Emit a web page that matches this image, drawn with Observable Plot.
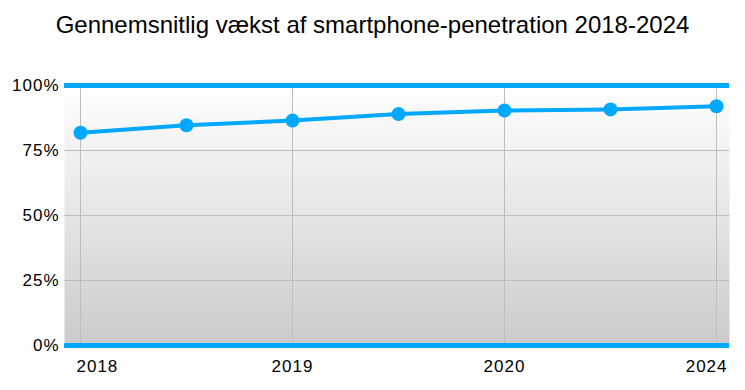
<!DOCTYPE html>
<html>
<head>
<meta charset="utf-8">
<script src="https://cdn.jsdelivr.net/npm/d3@7"></script>
<script src="https://cdn.jsdelivr.net/npm/@observablehq/plot@0.6"></script>
<style>
  html, body { margin: 0; padding: 0; background: #fff; }
  body { width: 745px; height: 390px; overflow: hidden; font-family: "Liberation Sans", Helvetica, Arial, sans-serif; }
  #title { height: 60px; line-height: 50px; text-align: center; font-size: 24px; color: #000; }
  #chart text { letter-spacing: 1px; }
</style>
</head>
<body>
<div id="title">Gennemsnitlig vækst af smartphone-penetration 2018-2024</div>
<div id="chart"></div>
<script>
const categories = ["2018", "2018 H2", "2019", "2019 H2", "2020", "2020 H2", "2024"];
const values = [81.8, 84.7, 86.5, 89.0, 90.4, 90.8, 92.0];
const labeledCategories = ["2018", "2019", "2020", "2024"];
const yTicks = [0, 25, 50, 75, 100];

const data = categories.map((c, i) => ({category: c, value: values[i]}));
const blue = "#00a8ff";

const defs = () => {
  const d = d3.create("svg:defs");
  const g = d.append("linearGradient").attr("id", "bg").attr("x1", 0).attr("y1", 0).attr("x2", 0).attr("y2", 1);
  g.append("stop").attr("offset", "0%").attr("stop-color", "#ffffff");
  g.append("stop").attr("offset", "100%").attr("stop-color", "#cbcbcb");
  return d.node();
};

const chart = Plot.plot({
  width: 745,
  height: 330,
  marginTop: 25,
  marginBottom: 45,
  marginLeft: 64,
  marginRight: 16,
  style: {fontFamily: "'Liberation Sans', Helvetica, Arial, sans-serif", fontSize: "17px", color: "#000", background: "#fff"},
  x: {type: "point", domain: categories, padding: 0, insetLeft: 13, insetRight: 11, axis: null},
  y: {domain: [0, 100], axis: null},
  marks: [
    defs,
    Plot.frame({fill: "url(#bg)", stroke: null}),
    Plot.ruleY([25, 50, 75], {stroke: "#bdbdbd", strokeWidth: 1}),
    Plot.ruleX(labeledCategories, {x: d => d, y1: 0, y2: 100, stroke: "#bdbdbd", strokeWidth: 1}),
    Plot.ruleY([0, 100], {stroke: blue, strokeWidth: 5}),
    Plot.axisY(yTicks, {tickSize: 0, tickPadding: 5, tickFormat: d => d + "%", fontSize: 17, fill: "#000", label: null}),
    Plot.text(labeledCategories.slice(0, 1), {x: d => d, frameAnchor: "bottom", dy: 26, textAnchor: "start", dx: -4, fontSize: 17, fill: "#000"}),
    Plot.text(labeledCategories.slice(1, -1), {x: d => d, frameAnchor: "bottom", dy: 26, textAnchor: "middle", fontSize: 17, fill: "#000"}),
    Plot.text(labeledCategories.slice(-1), {x: d => d, frameAnchor: "bottom", dy: 26, textAnchor: "end", dx: 11, fontSize: 17, fill: "#000"}),
    Plot.line(data, {x: "category", y: "value", stroke: blue, strokeWidth: 4}),
    Plot.dot(data, {x: "category", y: "value", r: 7, fill: blue, stroke: null})
  ]
});
document.getElementById("chart").appendChild(chart);
</script>
</body>
</html>
